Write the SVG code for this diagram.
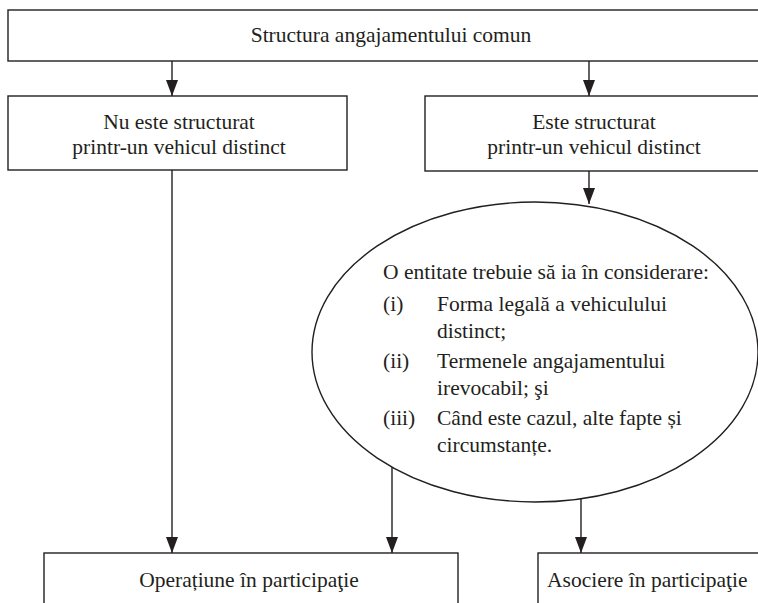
<svg xmlns="http://www.w3.org/2000/svg" width="758" height="603" viewBox="0 0 758 603" font-family="'Liberation Serif', 'Times New Roman', 'DejaVu Serif', serif">
  <style>
    .box { fill: #ffffff; stroke: #231f20; stroke-width: 1.4; }
    .conn { fill: none; stroke: #231f20; stroke-width: 1.4; }
    .t { font-family: 'Liberation Serif', 'Times New Roman', 'DejaVu Serif', serif; font-size: 21.5px; fill: #231f20; }
    .c { text-anchor: middle; }
  </style>
  <defs>
    <marker id="arrow" markerUnits="userSpaceOnUse" markerWidth="16" markerHeight="12" refX="16" refY="6" orient="auto">
      <path d="M0,0 L16,6 L0,12 z" fill="#231f20"/>
    </marker>
  </defs>
  <rect width="758" height="603" fill="#ffffff"/>

  <g id="structura">
    <rect class="box" x="8" y="10" width="770" height="51"/>
    <text class="t c" x="391" y="42">Structura angajamentului comun</text>
  </g>

  <g id="nu-este">
    <rect class="box" x="8" y="96" width="339" height="74"/>
    <text class="t c" x="179" y="129">Nu este structurat</text>
    <text class="t c" x="179" y="154">printr-un vehicul distinct</text>
  </g>

  <g id="este">
    <rect class="box" x="425" y="96" width="353" height="75"/>
    <text class="t c" x="594" y="129">Este structurat</text>
    <text class="t c" x="594" y="154">printr-un vehicul distinct</text>
  </g>

  <g id="criterii">
    <ellipse class="box" cx="535" cy="352" rx="223" ry="150"/>
    <text class="t" x="383" y="279">O entitate trebuie să ia în considerare:</text>
    <text class="t" x="383" y="311">(i)</text>
    <text class="t" x="437" y="311">Forma legală a vehiculului</text>
    <text class="t" x="437" y="338">distinct;</text>
    <text class="t" x="383" y="368">(ii)</text>
    <text class="t" x="437" y="368">Termenele angajamentului</text>
    <text class="t" x="437" y="395">irevocabil; şi</text>
    <text class="t" x="383" y="425">(iii)</text>
    <text class="t" x="437" y="425">Când este cazul, alte fapte și</text>
    <text class="t" x="437" y="452">circumstanțe.</text>
  </g>

  <g id="operatiune">
    <rect class="box" x="44" y="553" width="414" height="70"/>
    <text class="t c" x="249" y="587">Operațiune în participaţie</text>
  </g>

  <g id="asociere">
    <rect class="box" x="538" y="553" width="240" height="70"/>
    <text class="t" x="547" y="587">Asociere în participaţie</text>
  </g>

  <g id="connectors">
    <line class="conn" x1="172" y1="61" x2="172" y2="96" marker-end="url(#arrow)"/>
    <line class="conn" x1="589" y1="61" x2="589" y2="96" marker-end="url(#arrow)"/>
    <line class="conn" x1="589" y1="171" x2="589" y2="204" marker-end="url(#arrow)"/>
    <line class="conn" x1="172" y1="170" x2="172" y2="553" marker-end="url(#arrow)"/>
    <line class="conn" x1="392" y1="467" x2="392" y2="553" marker-end="url(#arrow)"/>
    <line class="conn" x1="581" y1="498" x2="581" y2="553" marker-end="url(#arrow)"/>
  </g>
</svg>
